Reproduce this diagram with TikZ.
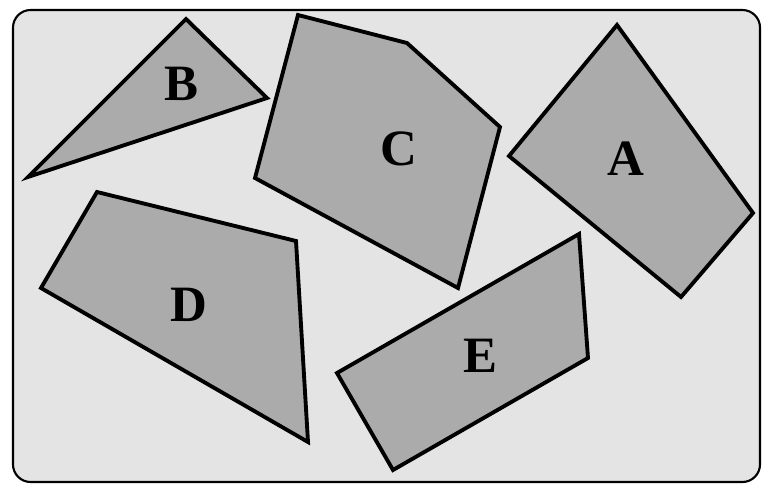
\documentclass[tikz,border=0pt]{standalone}
\usepackage{fontspec}
\setmainfont{Liberation Serif}
\usepackage{tikz}

\definecolor{bggray}{HTML}{E4E4E4}
\definecolor{piecegray}{HTML}{ABABAB}

\tikzset{
  piece/.style={draw=black, fill=piecegray, line width=2.2pt, line join=miter},
  lbl/.style={font=\fontsize{29}{32}\selectfont\bfseries}
}

\begin{document}
\begin{tikzpicture}[x=0.02cm, y=-0.02cm]
\useasboundingbox (0,0) rectangle (763,484);
%%   frame
    \draw[fill=bggray, line width=1.2pt, rounded corners=10pt] (13,10) rectangle (760,482);
%%   pieces   (x, y)
    \draw[piece] (186,19) -- (267,98) -- (28,177) -- cycle;
    \draw[piece] (298,15) -- (407,43) -- (500,127) -- (458,288) -- (255,178) -- cycle;
    \draw[piece] (617,25) -- (753,213) -- (681,297) -- (509,156) -- cycle;
    \draw[piece] (97,192) -- (296,241) -- (308,442) -- (41,288) -- cycle;
    \draw[piece] (579,234) -- (588,358) -- (393,470) -- (337,373) -- cycle;
%%   labels   (name)   (x, y)   {text}
    \node[lbl] (labB) at (181,84) {B};
    \node[lbl] (labC) at (399,149) {C};
    \node[lbl] (labA) at (626,159) {A};
    \node[lbl] (labD) at (189,305) {D};
    \node[lbl] (labE) at (480,356) {E};
\end{tikzpicture}
\end{document}
